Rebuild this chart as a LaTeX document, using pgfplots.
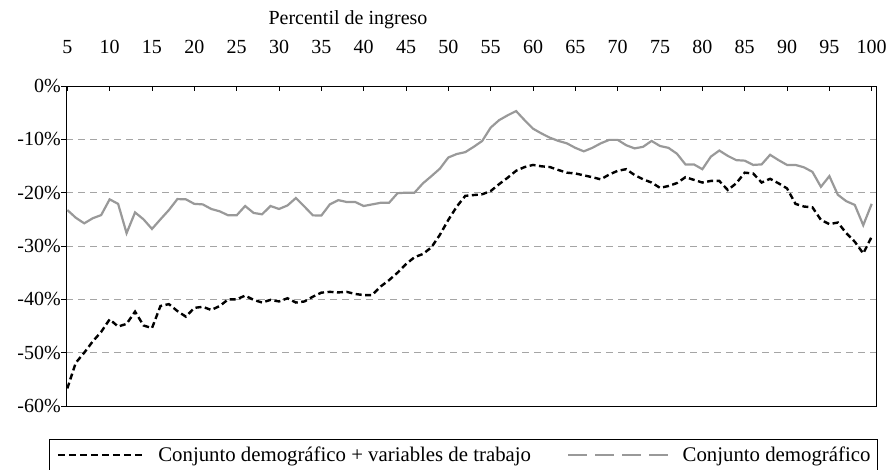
\documentclass[border=0pt]{standalone}
\usepackage{pgfplots}
\pgfplotsset{compat=1.18}
\usepackage{fontspec}
\setmainfont{Liberation Serif}
\definecolor{graycol}{RGB}{153,153,153}
\definecolor{gridcol}{RGB}{165,165,165}
\newcommand{\chartfont}{\fontsize{20bp}{24bp}\selectfont}
\newcommand{\legfont}{\fontsize{20.8bp}{25bp}\selectfont}
\begin{document}
\begin{tikzpicture}
\useasboundingbox (0,0) rectangle (890bp,470bp);
\begin{axis}[
  at={(66.3bp,64bp)}, anchor=south west,
  scale only axis, width=810.4bp, height=320bp,
  xmin=4.88, xmax=100.59, ymin=-60, ymax=0,
  xtick={5,10,...,100},
  ytick={-60,-50,...,0},
  yticklabels={-60\%,-50\%,-40\%,-30\%,-20\%,-10\%,0\%},
  xtick pos=upper, xticklabel pos=upper, ytick pos=left,
  tick align=inside, major tick length=5bp,
  x tick style={black, line width=0.8bp},
  y tick style={black, line width=0.8bp, xshift=-5bp},
  /pgf/number format/assume math mode=true,
  tick label style={font=\chartfont},
  xticklabel style={yshift=29bp},
  yticklabel style={xshift=-2bp},
  axis line style={black, line width=0.9bp},
  ymajorgrids,
  grid style={gridcol, line width=0.9bp, dash pattern=on 7bp off 5bp},
  title={Percentil de ingreso},
  title style={at={(0.3476,1.1875)}, anchor=center, font=\chartfont},
  legend style={at={(-0.0213,-0.1022)}, anchor=north west, draw=black, line width=0.9bp,
    font=\legfont, inner xsep=7.2bp, inner ysep=8bp, legend columns=2,
    nodes={inner sep=0pt}, column sep=0pt},
]
\addplot[graycol, line width=2.2bp, forget plot] coordinates {
(5,-23.25) (6,-24.7) (7,-25.75) (8,-24.8) (9,-24.2) (10,-21.25) (11,-22.1) (12,-27.6) (13,-23.7) (14,-25.0)
(15,-26.8) (16,-25.0) (17,-23.25) (18,-21.2) (19,-21.25) (20,-22.1) (21,-22.2) (22,-23.06) (23,-23.5) (24,-24.25)
(25,-24.25) (26,-22.5) (27,-23.8) (28,-24.06) (29,-22.5) (30,-23.06) (31,-22.4) (32,-21.0) (33,-22.6) (34,-24.25)
(35,-24.3) (36,-22.2) (37,-21.4) (38,-21.75) (39,-21.75) (40,-22.5) (41,-22.2) (42,-21.9) (43,-21.9) (44,-20.1)
(45,-20.0) (46,-20.0) (47,-18.25) (48,-16.9) (49,-15.5) (50,-13.4) (51,-12.75) (52,-12.4) (53,-11.4) (54,-10.3)
(55,-7.8) (56,-6.4) (57,-5.5) (58,-4.7) (59,-6.4) (60,-8.0) (61,-8.9) (62,-9.7) (63,-10.3) (64,-10.75)
(65,-11.6) (66,-12.25) (67,-11.6) (68,-10.75) (69,-10.1) (70,-10.1) (71,-11.1) (72,-11.7) (73,-11.4) (74,-10.3)
(75,-11.25) (76,-11.6) (77,-12.7) (78,-14.7) (79,-14.7) (80,-15.6) (81,-13.25) (82,-12.1) (83,-13.1) (84,-13.9)
(85,-14.0) (86,-14.8) (87,-14.7) (88,-12.9) (89,-13.9) (90,-14.8) (91,-14.8) (92,-15.25) (93,-16.1) (94,-18.9)
(95,-16.9) (96,-20.4) (97,-21.6) (98,-22.3) (99,-26.1) (100,-22.1)
};
\addplot[black, line width=2.4bp, dash pattern=on 6bp off 3.5bp, forget plot] coordinates {
(5,-56.7) (6,-51.9) (7,-50.0) (8,-47.9) (9,-46.1) (10,-43.75) (11,-45.1) (12,-44.6) (13,-42.3) (14,-44.9)
(15,-45.4) (16,-41.25) (17,-40.9) (18,-42.2) (19,-43.25) (20,-41.6) (21,-41.4) (22,-42.0) (23,-41.25) (24,-40.0)
(25,-40.0) (26,-39.3) (27,-40.1) (28,-40.6) (29,-40.1) (30,-40.4) (31,-39.8) (32,-40.6) (33,-40.4) (34,-39.5)
(35,-38.75) (36,-38.6) (37,-38.7) (38,-38.6) (39,-39.0) (40,-39.2) (41,-39.2) (42,-37.6) (43,-36.4) (44,-35.0)
(45,-33.4) (46,-32.1) (47,-31.5) (48,-30.25) (49,-27.9) (50,-25.1) (51,-22.6) (52,-20.6) (53,-20.45) (54,-20.3)
(55,-19.7) (56,-18.4) (57,-17.2) (58,-15.9) (59,-15.2) (60,-14.8) (61,-15.06) (62,-15.2) (63,-15.75) (64,-16.25)
(65,-16.4) (66,-16.75) (67,-17.1) (68,-17.5) (69,-16.6) (70,-15.9) (71,-15.6) (72,-16.7) (73,-17.5) (74,-18.1)
(75,-19.1) (76,-18.75) (77,-18.2) (78,-17.1) (79,-17.6) (80,-18.1) (81,-17.8) (82,-17.8) (83,-19.5) (84,-18.25)
(85,-16.25) (86,-16.4) (87,-18.1) (88,-17.4) (89,-18.25) (90,-19.2) (91,-22.1) (92,-22.6) (93,-22.75) (94,-25.1)
(95,-25.9) (96,-25.6) (97,-27.6) (98,-29.2) (99,-31.4) (100,-28.25)
};
\addlegendimage{legend image code/.code={\draw[black, line width=2.4bp, dash pattern=on 7bp off 4bp] (0bp,0bp) -- (85bp,0bp); \path (100bp,0bp);}}
\addlegendentry{Conjunto demográfico + variables de trabajo\hspace*{36bp}}
\addlegendimage{legend image code/.code={\draw[graycol, line width=2.4bp, dash pattern=on 19bp off 8bp] (0bp,0bp) -- (100bp,0bp); \path (114bp,0bp);}}
\addlegendentry{Conjunto demográfico}
\end{axis}
\end{tikzpicture}
\end{document}
